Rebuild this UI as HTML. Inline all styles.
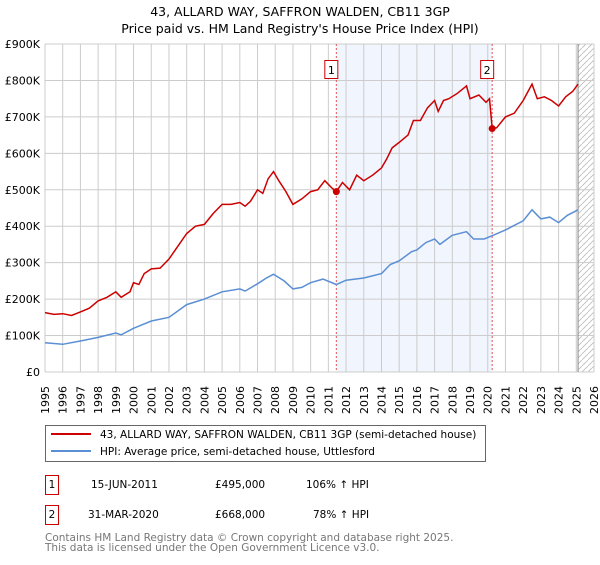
<!DOCTYPE html>
<html><head><meta charset="utf-8"><style>
body{margin:0;background:#fff;font-family:"Liberation Sans","DejaVu Sans",sans-serif;}
#wrap{position:relative;width:600px;height:560px;}
svg text{font-family:"DejaVu Sans","Liberation Sans",sans-serif;}
</style></head><body><div id="wrap">
<svg id="c" width="600" height="560">
<text x="300" y="16" text-anchor="middle" font-size="12.5">43, ALLARD WAY, SAFFRON WALDEN, CB11 3GP</text>
<text x="300" y="33" text-anchor="middle" font-size="12.5">Price paid vs. HM Land Registry's House Price Index (HPI)</text>
<g id="plot"></g>
<g>
<rect x="45.5" y="425.5" width="440" height="36" fill="#fff" stroke="#666"/>
<line x1="51" y1="434" x2="91" y2="434" stroke="#cc0000" stroke-width="2"/>
<text x="100" y="438" font-size="10.5">43, ALLARD WAY, SAFFRON WALDEN, CB11 3GP (semi-detached house)</text>
<line x1="51" y1="451" x2="91" y2="451" stroke="#5b8fd4" stroke-width="2"/>
<text x="100" y="455" font-size="10.5">HPI: Average price, semi-detached house, Uttlesford</text>
</g>
<g>
<rect x="45.5" y="475.5" width="13" height="19" fill="#fff" stroke="#cc0000"/>
<text x="52" y="488" font-size="10.5" text-anchor="middle">1</text>
<text x="91" y="488" font-size="10.5">15-JUN-2011</text>
<text x="215" y="488" font-size="10.5">£495,000</text>
<text x="306" y="488" font-size="10.5">106% ↑ HPI</text>
<rect x="45.5" y="505.5" width="13" height="19" fill="#fff" stroke="#cc0000"/>
<text x="52" y="518" font-size="10.5" text-anchor="middle">2</text>
<text x="88" y="518" font-size="10.5">31-MAR-2020</text>
<text x="215" y="518" font-size="10.5">£668,000</text>
<text x="313" y="518" font-size="10.5">78% ↑ HPI</text>
</g>
<text x="45" y="541" font-size="10.5" fill="#777">Contains HM Land Registry data © Crown copyright and database right 2025.</text>
<text x="45" y="551" font-size="10.5" fill="#777">This data is licensed under the Open Government Licence v3.0.</text>
</svg></div>
<script>
const yTicks=[0,100,200,300,400,500,600,700,800,900];
const yTickLabels=["£0","£100K","£200K","£300K","£400K","£500K","£600K","£700K","£800K","£900K"];
const xYears=[1995,1996,1997,1998,1999,2000,2001,2002,2003,2004,2005,2006,2007,2008,2009,2010,2011,2012,2013,2014,2015,2016,2017,2018,2019,2020,2021,2022,2023,2024,2025,2026];
const saleDates=[2011.45,2020.25];
const salePrices=[495,668];
const redT=[1995,1995.5,1996,1996.5,1997,1997.5,1998,1998.5,1999,1999.3,1999.8,2000,2000.3,2000.6,2001,2001.5,2002,2002.5,2003,2003.5,2004,2004.5,2005,2005.5,2006,2006.3,2006.6,2007,2007.3,2007.6,2007.9,2008.2,2008.6,2009,2009.5,2010,2010.4,2010.8,2011.2,2011.45,2011.8,2012.2,2012.6,2013,2013.5,2014,2014.3,2014.6,2015,2015.5,2015.8,2016.2,2016.6,2017,2017.2,2017.5,2017.8,2018.3,2018.8,2019,2019.5,2019.9,2020.1,2020.25,2020.5,2021,2021.5,2022,2022.5,2022.8,2023.2,2023.6,2024,2024.4,2024.8,2025.1];
const redV=[163,158,160,155,165,175,195,205,220,205,220,245,240,270,283,285,310,345,380,400,405,435,460,460,465,455,468,500,490,530,550,525,495,460,475,495,500,525,505,495,520,500,540,525,540,560,585,615,630,650,690,690,725,745,715,745,750,765,785,750,760,740,750,668,670,700,710,745,790,750,755,745,730,755,770,790];
const blueT=[1995,1996,1997,1998,1999,1999.3,2000,2001,2002,2003,2004,2005,2006,2006.3,2007,2007.5,2007.9,2008.5,2009,2009.5,2010,2010.7,2011.45,2012,2012.5,2013,2014,2014.5,2015,2015.7,2016,2016.5,2017,2017.3,2018,2018.8,2019.2,2019.8,2020.3,2021,2022,2022.5,2023,2023.5,2024,2024.5,2025.1];
const blueV=[80,76,85,95,107,102,120,140,150,185,200,220,228,222,242,258,268,250,228,232,245,255,240,252,255,258,270,295,305,330,335,355,365,350,375,385,365,365,375,390,415,445,420,425,410,430,445];
const X0=45,X1=594,Y0=372,Y1=44;
const sx=t=>X0+(t-1995)/(2026-1995)*(X1-X0);
const sy=v=>Y0-v/900*(Y0-Y1);
const NS="http://www.w3.org/2000/svg";
const g=document.getElementById('plot');
function mk(tag,attrs,parent){const e=document.createElementNS(NS,tag);for(const k in attrs)e.setAttribute(k,attrs[k]);(parent||g).appendChild(e);return e;}
let sh=mk('rect',{x:sx(saleDates[0]),y:Y1,width:sx(saleDates[1])-sx(saleDates[0]),height:Y0-Y1,fill:'#eef3fc',opacity:0.8});


const defs=mk('defs',{});
const pat=mk('pattern',{id:'hatch',width:6,height:6,patternUnits:'userSpaceOnUse'},defs);
mk('path',{d:'M0,6 L6,0',stroke:'#bbb','stroke-width':0.8},pat);
let ht=mk('rect',{x:sx(2025.1),y:Y1,width:X1-sx(2025.1),height:Y0-Y1,fill:'url(#hatch)'});


xYears.forEach((yr,i)=>{
 const x=sx(yr);
 mk('line',{x1:x,y1:Y1,x2:x,y2:Y0,stroke:'#cccccc','stroke-width':1});
 const t=mk('text',{x:0,y:0,'font-size':11,transform:`translate(${x+4},${Y0+42}) rotate(-90)`});
 t.textContent=yr;
 
 
});
yTicks.forEach((v,i)=>{
 const y=sy(v);
 mk('line',{x1:X0,y1:y,x2:X1,y2:y,stroke:'#cccccc','stroke-width':1});
 const t=mk('text',{x:X0-5,y:y+4,'font-size':11,'text-anchor':'end'});
 t.textContent=yTickLabels[i];
 
 
});
mk('line',{x1:sx(2025.1),y1:Y1,x2:sx(2025.1),y2:Y0,stroke:'#888','stroke-width':1});
saleDates.forEach((d,i)=>{
 const ln=mk('line',{x1:sx(d),y1:Y1,x2:sx(d),y2:Y0,stroke:'#e05555','stroke-width':1,'stroke-dasharray':'2,2'});
 
 
 const bx=mk('rect',{x:sx(d)-11.5,y:60.5,width:13,height:18,fill:'#fff',stroke:'#cc0000'});
 
 
 const tt=mk('text',{x:sx(d)-5,y:74,'font-size':11,'text-anchor':'middle'});
 tt.textContent=String(i+1);
});
function line(T,V,color,name){
 const p=mk('path',{d:T.map((t,i)=>(i?'L':'M')+sx(t).toFixed(1)+','+sy(V[i]).toFixed(1)).join(''),fill:'none',stroke:color,'stroke-width':1.5});
 
 
}
line(blueT,blueV,'#5b8fd4','hpi-line');
line(redT,redV,'#cc0000','property-price-line');
saleDates.forEach((d,i)=>{
 const c=mk('circle',{cx:sx(d),cy:sy(salePrices[i]),r:3.5,fill:'#cc0000'});
 
 
});
</script></body></html>
